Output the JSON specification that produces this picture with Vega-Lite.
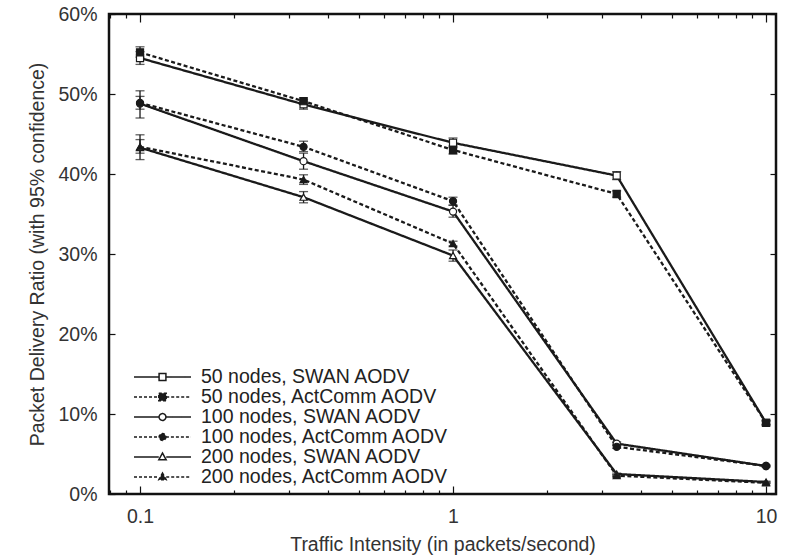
{
  "$schema": "https://vega.github.io/schema/vega-lite/v6.json",
  "width": 667,
  "height": 480,
  "autosize": "none",
  "padding": {"left": 109, "top": 14, "right": 10, "bottom": 62},
  "background": "white",
  "config": {
    "view": {"stroke": "#111", "strokeWidth": 2.5},
    "font": "Liberation Sans",
    "axis": {"grid": false, "domain": false, "labelFont": "Liberation Sans", "titleFont": "Liberation Sans", "labelColor": "#333", "titleColor": "#333", "labelFontSize": 19.5, "titleFontSize": 19.5, "titleFontWeight": "normal", "tickColor": "#111", "tickWidth": 1.2, "labelOverlap": false, "labelFlush": false},
    "legend": {"labelFont": "Liberation Sans", "labelFontSize": 19.5, "labelColor": "#222", "labelLimit": 400}
  },
  "data": {
    "values": [
      {"series": "50 nodes, SWAN AODV", "x": 0.1, "y": 54.5, "lo": 53.7, "hi": 55.3},
      {"series": "50 nodes, SWAN AODV", "x": 0.333, "y": 48.7, "lo": 48.1, "hi": 49.3},
      {"series": "50 nodes, SWAN AODV", "x": 1, "y": 43.9, "lo": 43.3, "hi": 44.5},
      {"series": "50 nodes, SWAN AODV", "x": 3.333, "y": 39.8, "lo": 39.3, "hi": 40.3},
      {"series": "50 nodes, SWAN AODV", "x": 10, "y": 8.9, "lo": 8.6, "hi": 9.2},
      {"series": "50 nodes, ActComm AODV", "x": 0.1, "y": 55.2, "lo": 54.6, "hi": 55.9},
      {"series": "50 nodes, ActComm AODV", "x": 0.333, "y": 49.1, "lo": 48.7, "hi": 49.5},
      {"series": "50 nodes, ActComm AODV", "x": 1, "y": 43.0, "lo": 42.5, "hi": 43.5},
      {"series": "50 nodes, ActComm AODV", "x": 3.333, "y": 37.5, "lo": 37.1, "hi": 37.9},
      {"series": "50 nodes, ActComm AODV", "x": 10, "y": 8.9, "lo": 8.7, "hi": 9.1},
      {"series": "100 nodes, SWAN AODV", "x": 0.1, "y": 48.8, "lo": 47.0, "hi": 50.4},
      {"series": "100 nodes, SWAN AODV", "x": 0.333, "y": 41.6, "lo": 40.6, "hi": 42.6},
      {"series": "100 nodes, SWAN AODV", "x": 1, "y": 35.3, "lo": 34.6, "hi": 36.1},
      {"series": "100 nodes, SWAN AODV", "x": 3.333, "y": 6.3, "lo": 6.1, "hi": 6.5},
      {"series": "100 nodes, SWAN AODV", "x": 10, "y": 3.5, "lo": 3.4, "hi": 3.6},
      {"series": "100 nodes, ActComm AODV", "x": 0.1, "y": 48.9, "lo": 48.1, "hi": 49.7},
      {"series": "100 nodes, ActComm AODV", "x": 0.333, "y": 43.4, "lo": 42.8, "hi": 44.1},
      {"series": "100 nodes, ActComm AODV", "x": 1, "y": 36.6, "lo": 36.1, "hi": 37.1},
      {"series": "100 nodes, ActComm AODV", "x": 3.333, "y": 5.9, "lo": 5.7, "hi": 6.1},
      {"series": "100 nodes, ActComm AODV", "x": 10, "y": 3.5, "lo": 3.4, "hi": 3.6},
      {"series": "200 nodes, SWAN AODV", "x": 0.1, "y": 43.3, "lo": 41.8, "hi": 44.9},
      {"series": "200 nodes, SWAN AODV", "x": 0.333, "y": 37.1, "lo": 36.4, "hi": 37.8},
      {"series": "200 nodes, SWAN AODV", "x": 1, "y": 29.8, "lo": 29.1, "hi": 30.5},
      {"series": "200 nodes, SWAN AODV", "x": 3.333, "y": 2.5, "lo": 2.4, "hi": 2.6},
      {"series": "200 nodes, SWAN AODV", "x": 10, "y": 1.5, "lo": 1.4, "hi": 1.6},
      {"series": "200 nodes, ActComm AODV", "x": 0.1, "y": 43.4, "lo": 42.6, "hi": 44.3},
      {"series": "200 nodes, ActComm AODV", "x": 0.333, "y": 39.3, "lo": 38.7, "hi": 39.9},
      {"series": "200 nodes, ActComm AODV", "x": 1, "y": 31.3, "lo": 31.0, "hi": 31.6},
      {"series": "200 nodes, ActComm AODV", "x": 3.333, "y": 2.3, "lo": 2.2, "hi": 2.4},
      {"series": "200 nodes, ActComm AODV", "x": 10, "y": 1.4, "lo": 1.3, "hi": 1.5}
    ]
  },
  "resolve": {
    "scale": {"shape": "independent", "fill": "independent", "strokeDash": "independent"},
    "axis": {"x": "independent", "y": "independent"}
  },
  "layer": [
    {
      "mark": {"type": "rule", "color": "#1a1a1a", "strokeWidth": 1.3},
      "encoding": {
        "x": {"field": "x", "type": "quantitative", "scale": {"type": "log", "domain": [0.0796, 10.76], "nice": false},
          "axis": {"orient": "top", "labels": false, "title": null,
            "values": [0.08, 0.09, 0.1, 0.2, 0.3, 0.4, 0.5, 0.6, 0.7, 0.8, 0.9, 1, 2, 3, 4, 5, 6, 7, 8, 9, 10],
            "tickSize": {"condition": {"test": "datum.value == 0.1 || datum.value == 1 || datum.value == 10", "value": -8}, "value": -4}}},
        "y": {"field": "lo", "type": "quantitative", "scale": {"domain": [0, 60], "nice": false},
          "axis": {"orient": "right", "labels": false, "title": null, "values": [0, 10, 20, 30, 40, 50, 60], "tickSize": -6}},
        "y2": {"field": "hi"}
      }
    },
    {
      "mark": {"type": "tick", "orient": "horizontal", "color": "#1a1a1a", "size": 9, "thickness": 1.3},
      "encoding": {
        "x": {"field": "x", "type": "quantitative", "axis": null},
        "y": {"field": "lo", "type": "quantitative", "axis": null}
      }
    },
    {
      "mark": {"type": "tick", "orient": "horizontal", "color": "#1a1a1a", "size": 9, "thickness": 1.3},
      "encoding": {
        "x": {"field": "x", "type": "quantitative", "axis": null},
        "y": {"field": "hi", "type": "quantitative", "axis": null}
      }
    },
    {
      "mark": {"type": "line", "color": "#1a1a1a", "strokeWidth": 2.3},
      "encoding": {
        "x": {"field": "x", "type": "quantitative",
          "axis": {"orient": "bottom", "title": "Traffic Intensity (in packets/second)", "titlePadding": 6,
            "values": [0.08, 0.09, 0.1, 0.2, 0.3, 0.4, 0.5, 0.6, 0.7, 0.8, 0.9, 1, 2, 3, 4, 5, 6, 7, 8, 9, 10],
            "labelExpr": "datum.value == 0.1 || datum.value == 1 || datum.value == 10 ? datum.label : ''",
            "format": "~g", "labelPadding": 21,
            "tickSize": {"condition": {"test": "datum.value == 0.1 || datum.value == 1 || datum.value == 10", "value": -8}, "value": -4}}},
        "y": {"field": "y", "type": "quantitative",
          "axis": {"orient": "left", "title": "Packet Delivery Ratio (with 95% confidence)", "titlePadding": 10,
            "values": [0, 10, 20, 30, 40, 50, 60], "labelExpr": "datum.value + '%'", "tickSize": -6, "labelPadding": 18}},
        "detail": {"field": "series"},
        "strokeDash": {"field": "series", "type": "nominal", "legend": null,
          "scale": {"domain": ["50 nodes, SWAN AODV", "50 nodes, ActComm AODV", "100 nodes, SWAN AODV", "100 nodes, ActComm AODV", "200 nodes, SWAN AODV", "200 nodes, ActComm AODV"],
            "range": [[1, 0], [4, 2.5], [1, 0], [4, 2.5], [1, 0], [4, 2.5]]}}
      }
    },
    {
      "mark": {"type": "point", "filled": true, "stroke": "#1a1a1a", "strokeWidth": 1.2, "size": 50, "opacity": 1},
      "encoding": {
        "x": {"field": "x", "type": "quantitative", "axis": null},
        "y": {"field": "y", "type": "quantitative", "axis": null},
        "shape": {"field": "series", "type": "nominal", "legend": null,
          "scale": {"domain": ["50 nodes, SWAN AODV", "50 nodes, ActComm AODV", "100 nodes, SWAN AODV", "100 nodes, ActComm AODV", "200 nodes, SWAN AODV", "200 nodes, ActComm AODV"],
            "range": ["square", "square", "circle", "circle", "triangle-up", "triangle-up"]}},
        "fill": {"field": "series", "type": "nominal", "legend": null,
          "scale": {"domain": ["50 nodes, SWAN AODV", "50 nodes, ActComm AODV", "100 nodes, SWAN AODV", "100 nodes, ActComm AODV", "200 nodes, SWAN AODV", "200 nodes, ActComm AODV"],
            "range": ["white", "#1a1a1a", "white", "#1a1a1a", "white", "#1a1a1a"]}}
      }
    },
    {
      "transform": [{"filter": "datum.x > 1000"}],
      "mark": {"type": "point", "filled": true, "stroke": "#1a1a1a", "strokeWidth": 1.8, "opacity": 1},
      "encoding": {
        "x": {"field": "x", "type": "quantitative", "axis": null},
        "y": {"field": "y", "type": "quantitative", "axis": null},
        "shape": {"field": "series", "type": "nominal", "title": null,
          "scale": {"domain": ["50 nodes, SWAN AODV", "50 nodes, ActComm AODV", "100 nodes, SWAN AODV", "100 nodes, ActComm AODV", "200 nodes, SWAN AODV", "200 nodes, ActComm AODV"],
            "range": [
              "M-1,0H-0.12M0.12,0H1M-0.12,-0.12H0.12V0.12H-0.12Z",
              "M-1,0H-0.13M0.13,0H1M-0.13,-0.13H0.13V0.13H-0.13Z",
              "M-1,0H-0.12M0.12,0H1M0.12,0A0.12,0.12,0,1,1,-0.12,0A0.12,0.12,0,1,1,0.12,0Z",
              "M-1,0H-0.12M0.12,0H1M0.12,0A0.12,0.12,0,1,1,-0.12,0A0.12,0.12,0,1,1,0.12,0Z",
              "M-1,0H-0.13M0.13,0H1M0,-0.14L0.13,0.1H-0.13Z",
              "M-1,0H-0.13M0.13,0H1M0,-0.14L0.13,0.1H-0.13Z"
            ]},
          "legend": {"orient": "bottom-left", "offset": 7, "padding": 0, "symbolSize": 3249, "clipHeight": 20, "rowPadding": 0, "labelOffset": 9, "symbolOffset": 17,
            "encode": {"symbols": {"update": {"stroke": {"value": "#1a1a1a"}, "strokeWidth": {"value": 1.8}, "opacity": {"value": 1}}}}}},
        "fill": {"field": "series", "type": "nominal", "title": null,
          "scale": {"domain": ["50 nodes, SWAN AODV", "50 nodes, ActComm AODV", "100 nodes, SWAN AODV", "100 nodes, ActComm AODV", "200 nodes, SWAN AODV", "200 nodes, ActComm AODV"],
            "range": ["white", "#1a1a1a", "white", "#1a1a1a", "white", "#1a1a1a"]}},
        "strokeDash": {"field": "series", "type": "nominal", "title": null,
          "scale": {"domain": ["50 nodes, SWAN AODV", "50 nodes, ActComm AODV", "100 nodes, SWAN AODV", "100 nodes, ActComm AODV", "200 nodes, SWAN AODV", "200 nodes, ActComm AODV"],
            "range": [[1, 0], [3, 2], [1, 0], [3, 2], [1, 0], [3, 2]]}}
      }
    }
  ]
}
